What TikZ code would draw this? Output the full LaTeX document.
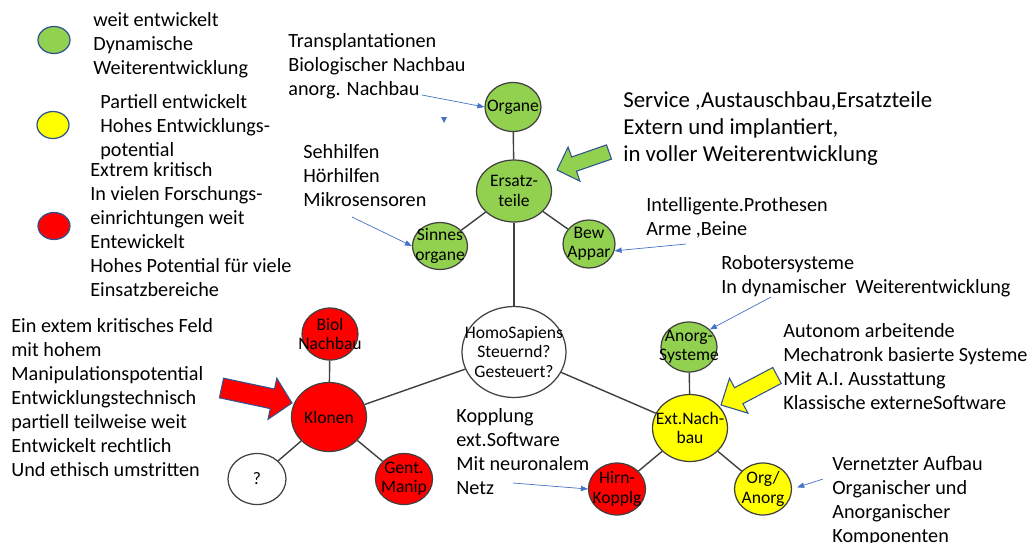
\documentclass[tikz,border=0pt]{standalone}
\usepackage{fontspec}
\setmainfont{Carlito}
\usepackage{tikz}
\usetikzlibrary{shapes.geometric,arrows.meta}

\definecolor{greenfill}{HTML}{92D050}
\definecolor{yellowfill}{HTML}{FFFF00}
\definecolor{redfill}{HTML}{FF0000}
\definecolor{rimgray}{HTML}{404040}
\definecolor{legblue}{HTML}{2F528F}
\definecolor{arrowblue}{HTML}{4472C4}

\tikzset{
  bubble/.style={ellipse, draw=rimgray, line width=0.7pt, inner sep=0pt},
  legdot/.style={ellipse, draw=legblue, line width=0.7pt, inner sep=0pt,
    minimum width=0.64cm, minimum height=0.54cm},
  every label/.style={align=center, inner sep=0pt, font=\fontsize{10}{11}\selectfont},
  note/.style={anchor=north west, inner sep=0pt, align=left,
    font=\fontsize{11.5}{13.66}\selectfont},
  bignote/.style={note, font=\fontsize{13}{15.4}\selectfont},
  link/.style={draw=rimgray, line width=0.8pt},
  pointer/.style={draw=arrowblue, line width=0.4pt, -{Triangle[length=4pt,width=3pt]}},
  bigarrow/.style={draw=legblue, line width=0.6pt, line join=miter}
}

\begin{document}
\begin{tikzpicture}[x=0.02cm, y=-0.02cm]
    \useasboundingbox (0,0) rectangle (1027,542);

    % legende
    \node[legdot, fill=greenfill] (leggreen) at (54,40) {};
    \node[legdot, fill=yellowfill] (legyellow) at (53,125) {};
    \node[legdot, fill=redfill] (legred) at (54,226) {};
    \node[note] (legtxtgreen) at (93,12) {weit entwickelt\\Dynamische\\Weiterentwicklung};
    \node[note] (legtxtyellow) at (100,94) {Partiell entwickelt\\Hohes Entwicklungs-\\potential};
    \node[note] (legtxtred) at (90,162) {Extrem kritisch\\In vielen Forschungs-\\einrichtungen weit\\Entewickelt\\Hohes Potential für viele\\Einsatzbereiche};

    % knoten
    \node[bubble, fill=greenfill, minimum width=1.12cm, minimum height=0.98cm, label={center:Organe}] (organe) at (513,107) {};
    \node[bubble, fill=greenfill, minimum width=1.5cm, minimum height=1.24cm, label={center:Ersatz-\\teile}] (ersatz) at (514,191) {};
    \node[bubble, fill=greenfill, minimum width=1.1cm, minimum height=0.94cm, label={center:Sinnes\\organe}] (sinnes) at (440,246) {};
    \node[bubble, fill=greenfill, minimum width=1.04cm, minimum height=0.96cm, label={center:Bew\\Appar}] (bew) at (589,244) {};
    \node[bubble, fill=white, minimum width=2.08cm, minimum height=1.82cm, label={center:HomoSapiens\\Steuernd?\\Gesteuert?}] (homo) at (514,352) {};
    \node[bubble, fill=greenfill, minimum width=1.12cm, minimum height=1.0cm, label={center:Anorg-\\Systeme}] (anorg) at (689,347) {};
    \node[bubble, fill=yellowfill, minimum width=1.5cm, minimum height=1.34cm, label={center:Ext.Nach-\\bau}] (extnach) at (690,428) {};
    \node[bubble, fill=redfill, minimum width=1.14cm, minimum height=1.04cm, label={center:Hirn-\\Kopplg}] (hirn) at (617,489) {};
    \node[bubble, fill=yellowfill, minimum width=1.14cm, minimum height=1.04cm, label={center:Org/\\Anorg}] (organorg) at (763,489) {};
    \node[bubble, fill=redfill, minimum width=1.5cm, minimum height=1.38cm, label={center:Klonen}] (klonen) at (329,417) {};
    \node[bubble, fill=redfill, minimum width=1.12cm, minimum height=1.04cm, label={center:Biol\\Nachbau}] (biol) at (330,334) {};
    \node[bubble, fill=white, minimum width=1.16cm, minimum height=1.02cm, label={center:?}] (frage) at (257,479) {};
    \node[bubble, fill=redfill, minimum width=1.14cm, minimum height=1.02cm, label={center:Gent.\\Manip}] (gent) at (404,479) {};

    % verbindungen
    \draw[link] (organe) -- (ersatz);
    \draw[link] (ersatz) -- (sinnes);
    \draw[link] (ersatz) -- (bew);
    \draw[link] (ersatz) -- (homo);
    \draw[link] (homo) -- (klonen);
    \draw[link] (homo) -- (extnach);
    \draw[link] (klonen) -- (biol);
    \draw[link] (klonen) -- (frage);
    \draw[link] (klonen) -- (gent);
    \draw[link] (extnach) -- (anorg);
    \draw[link] (extnach) -- (hirn);
    \draw[link] (extnach) -- (organorg);

    % beschriftungen
    \node[note] (txtorgane) at (288,33) {Transplantationen\\Biologischer Nachbau\\anorg. Nachbau};
    \node[note] (txtsinnes) at (303,144) {Sehhilfen\\Hörhilfen\\Mikrosensoren};
    \node[bignote] (txtersatz) at (623,91) {Service ,Austauschbau,Ersatzteile\\Extern und implantiert,\\in voller Weiterentwicklung};
    \node[note] (txtbew) at (646,197) {Intelligente.Prothesen\\Arme ,Beine};
    \node[note] (txtanorg) at (721,255) {Robotersysteme\\In dynamischer\ \ Weiterentwicklung};
    \node[note] (txtextnach) at (783,323) {Autonom arbeitende\\Mechatronk basierte Systeme\\Mit A.I. Ausstattung\\Klassische externeSoftware};
    \node[note] (txtklonen) at (11,318) {Ein extem kritisches Feld\\mit hohem\\Manipulationspotential\\Entwicklungstechnisch\\partiell teilweise weit\\Entwickelt rechtlich\\Und ethisch umstritten};
    \node[note] (txthirn) at (456,408) {Kopplung\\ext.Software\\Mit neuronalem\\Netz};
    \node[note] (txtorganorg) at (832,456) {Vernetzter Aufbau\\Organischer und\\Anorganischer\\Komponenten};

    % zeiger
    \coordinate (p1) at (422,95);
    \coordinate (p2) at (352,217);
    \coordinate (p3) at (686,244);
    \coordinate (p4) at (771,297);
    \coordinate (p5) at (513,483);
    \coordinate (p6) at (823,479);
    \draw[pointer] (p1) -- (organe.west);
    \draw[pointer] (p2) -- (sinnes.west);
    \draw[pointer] (p3) -- (bew.-15);
    \draw[pointer] (p4) -- (anorg.40);
    \draw[pointer] (p5) -- (hirn.west);
    \draw[pointer, shorten >=3pt] (p6) -- (organorg.east);
    \fill[arrowblue] (441,117) -- (447,117) -- (444,123) -- cycle;

    % blockpfeile
    \draw[bigarrow, fill=greenfill] (557,170) -- (568.1,147.1) -- (571.6,157.0) -- (606.5,144.9)
        -- (611.5,159.1) -- (576.5,171.2) -- (579.9,181.1) -- cycle;
    \draw[bigarrow, fill=yellowfill] (721,405) -- (729.5,378.3) -- (734.5,387.7) -- (772.8,367.5)
        -- (781.2,383.5) -- (742.9,403.7) -- (747.9,413.1) -- cycle;
    \draw[bigarrow, fill=redfill] (292,403) -- (268.0,419.3) -- (270.3,408.6) -- (219.4,397.8)
        -- (223.6,378.2) -- (274.5,389.0) -- (276.8,378.3) -- cycle;
\end{tikzpicture}
\end{document}
